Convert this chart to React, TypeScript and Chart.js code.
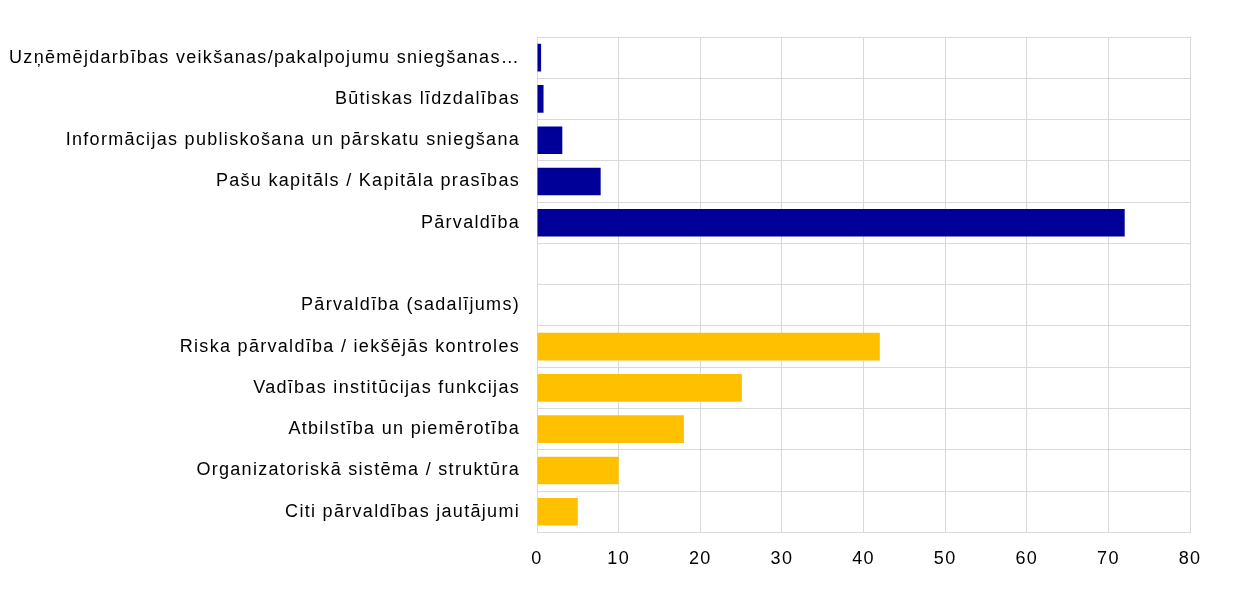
import React, { useEffect, useRef } from "react";
import { Chart, registerables } from "chart.js";

Chart.register(...registerables);

const categories = [
  "Uzņēmējdarbības veikšanas/pakalpojumu sniegšanas…",
  "Būtiskas līdzdalības",
  "Informācijas publiskošana un pārskatu sniegšana",
  "Pašu kapitāls / Kapitāla prasības",
  "Pārvaldība",
  "",
  "Pārvaldība (sadalījums)",
  "Riska pārvaldība / iekšējās kontroles",
  "Vadības institūcijas funkcijas",
  "Atbilstība un piemērotība",
  "Organizatoriskā sistēma / struktūra",
  "Citi pārvaldības jautājumi",
];

const values = [0.5, 0.8, 3.1, 7.8, 72, 0, 0, 42, 25.1, 18, 10, 5];
const groups = ["main", "main", "main", "main", "main", "gap", "header", "sub", "sub", "sub", "sub", "sub"];
const xTicks = [0, 10, 20, 30, 40, 50, 60, 70, 80];

const BLUE = "#000099";
const YELLOW = "#FFC000";

const spacingPlugin = {
  id: "letterSpacing",
  beforeUpdate(chart: any) {
    chart.ctx.letterSpacing = "1.3px";
  },
  beforeDraw(chart: any) {
    chart.ctx.letterSpacing = "1.3px";
  },
};

export default function App() {
  const ref = useRef<HTMLCanvasElement | null>(null);

  useEffect(() => {
    document.body.style.margin = "0";
    const canvas = ref.current!;
    const chart = new Chart(canvas, {
      type: "bar",
      data: {
        labels: categories,
        datasets: [
          {
            data: values,
            backgroundColor: groups.map((g) => (g === "sub" ? YELLOW : BLUE)),
            barPercentage: 0.67,
            categoryPercentage: 1,
          },
        ],
      },
      plugins: [spacingPlugin],
      options: {
        indexAxis: "y",
        animation: false,
        responsive: false,
        maintainAspectRatio: false,
        layout: { padding: { top: 37, right: 50, left: 0, bottom: 7 } },
        plugins: { legend: { display: false }, tooltip: { enabled: false } },
        scales: {
          x: {
            min: 0,
            max: 80,
            afterBuildTicks: (scale: any) => {
              scale.ticks = xTicks.map((v) => ({ value: v }));
            },
            grid: { color: "#d9d9d9", drawTicks: false, lineWidth: 1 },
            border: { color: "#d9d9d9" },
            ticks: {
              color: "#000",
              padding: 16,
              font: { family: "'Liberation Sans', Arial, sans-serif", size: 18 },
            },
          },
          y: {
            afterFit: (scale: any) => {
              scale.width = 537;
            },
            grid: { color: "#d9d9d9", drawTicks: false, offset: true },
            border: { color: "#d9d9d9" },
            ticks: {
              color: "#000",
              padding: 17,
              autoSkip: false,
              font: { family: "'Liberation Sans', Arial, sans-serif", size: 18 },
            },
          },
        },
      },
    } as any);
    return () => chart.destroy();
  }, []);

  return (
    <div style={{ width: 1240, height: 593 }}>
      <canvas ref={ref} width={1240} height={593} style={{ display: "block" }} />
    </div>
  );
}
